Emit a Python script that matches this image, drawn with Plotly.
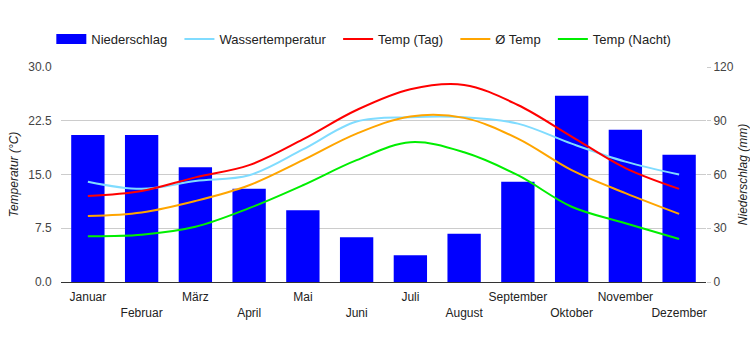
import plotly.graph_objects as go

months = ["Januar", "Februar", "März", "April", "Mai", "Juni", "Juli",
          "August", "September", "Oktober", "November", "Dezember"]
niederschlag = [82, 82, 64, 52, 40, 25, 15, 27, 56, 104, 85, 71]
wasser = [14.0, 13.0, 14.1, 14.9, 18.5, 22.4, 23.0, 23.0, 22.1, 19.3, 16.8, 15.0]
temp_tag = [12.0, 12.7, 14.6, 16.3, 19.9, 24.0, 26.9, 27.5, 24.7, 20.3, 15.9, 13.0]
temp_avg = [9.2, 9.7, 11.3, 13.5, 17.0, 20.7, 23.1, 22.9, 20.0, 15.6, 12.4, 9.5]
temp_nacht = [6.4, 6.6, 7.7, 10.3, 13.5, 17.0, 19.5, 18.1, 14.9, 10.5, 8.2, 6.0]

left_ticks = [0, 7.5, 15, 22.5, 30]
left_ticktext = ["0.0", "7.5", "15.0", "22.5", "30.0"]
right_ticks = [0, 30, 60, 90, 120]

ticktext = [m if i % 2 == 0 else "<br>" + m for i, m in enumerate(months)]
PAD = "\u00a0\u00a0"

fig = go.Figure()
fig.add_trace(go.Bar(x=months, y=niederschlag, name="Niederschlag",
                     marker=dict(color="#0000ff", line=dict(width=0)),
                     yaxis="y", width=0.62, showlegend=False))
# legend entry for the bars (wide rectangle like the reference)
fig.add_trace(go.Scatter(x=[None], y=[None], name="Niederschlag" + PAD, mode="lines",
                         line=dict(color="#0000ff", width=12), yaxis="y2"))
for name, vals, col in [("Wassertemperatur", wasser, "#80dcff"),
                        ("Temp (Tag)", temp_tag, "#ff0000"),
                        ("Ø Temp", temp_avg, "#ffa500"),
                        ("Temp (Nacht)", temp_nacht, "#00ee00")]:
    fig.add_trace(go.Scatter(x=months, y=vals, name=name + PAD, mode="lines",
                             line=dict(color=col, width=2, shape="spline", smoothing=1.0),
                             yaxis="y2"))

fig.update_layout(
    width=750, height=350,
    margin=dict(l=61, r=44, t=67, b=68, autoexpand=False),
    paper_bgcolor="white", plot_bgcolor="white",
    font=dict(family="Liberation Sans, Arial, sans-serif", size=12, color="#222"),
    showlegend=True,
    legend=dict(orientation="h", x=-0.015, xanchor="left", y=1.13, yanchor="middle",
                font=dict(size=13, color="#222"),
                traceorder="normal"),
    bargap=0.38,
    xaxis=dict(tickmode="array", tickvals=months, ticktext=ticktext, tickangle=0,
               showgrid=False, showline=True, linecolor="#333", linewidth=1,
               ticks="", tickfont=dict(size=12, color="#222"), automargin=False,
               ticklabelstandoff=4),
    yaxis=dict(side="right", range=[0, 120], tickvals=right_ticks,
               showgrid=True, gridcolor="#cccccc", zeroline=False,
               tickfont=dict(size=12, color="#444"),
               ticks="outside", ticklen=4, tickcolor="#cccccc", automargin=False,
               title=dict(text="<i>Niederschlag (mm)</i>", font=dict(size=12, color="#222"), standoff=10)),
    yaxis2=dict(side="left", overlaying="y", range=[0, 30], tickvals=left_ticks,
                ticktext=left_ticktext, showgrid=False, zeroline=False,
                tickfont=dict(size=12, color="#444"),
                ticks="outside", ticklen=6, tickcolor="rgba(0,0,0,0)", automargin=False,
                title=dict(text="<i>Temperatur (°C)</i>", font=dict(size=12, color="#222"), standoff=7)),
)

fig.write_html("out.html")
